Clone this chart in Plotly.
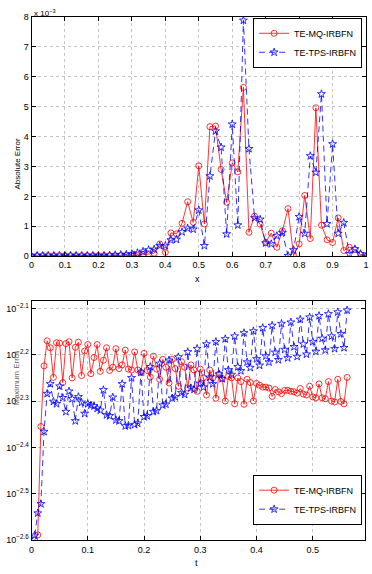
import numpy as np
import plotly.graph_objects as go

# ---------------- top panel data (absolute error, units of 1e-3) ----------------
x_nodes = np.linspace(0, 1, 61)
mq_abs_err_e3 = [0.0, 0.02, 0.02, 0.02, 0.02, 0.02, 0.02, 0.02, 0.02, 0.02,
                 0.02, 0.02, 0.02, 0.02, 0.02, 0.02, 0.02, 0.02, 0.02, 0.03,
                 0.05, 0.08, 0.10, 0.41, 0.13, 0.78, 0.75, 1.10, 1.82, 1.13,
                 3.02, 1.08, 4.33, 4.35, 2.90, 1.80, 3.12, 2.82, 5.64, 0.80,
                 1.34, 1.07, 0.46, 0.77, 0.30, 0.85, 1.59, 0.02, 0.41, 2.03,
                 0.59, 4.96, 1.04, 0.55, 0.46, 1.28, 0.19, 0.30, 0.22, 0.06, 0.0]
tps_abs_err_e3 = [0.0, 0.02, 0.02, 0.02, 0.02, 0.02, 0.02, 0.02, 0.02, 0.02,
                  0.02, 0.02, 0.02, 0.02, 0.03, 0.04, 0.05, 0.06, 0.08, 0.11,
                  0.16, 0.21, 0.23, 0.35, 0.35, 0.54, 0.56, 0.81, 0.93, 0.90,
                  1.54, 0.35, 2.68, 4.18, 3.64, 0.74, 4.41, 1.04, 7.88, 3.59,
                  1.28, 1.23, 0.44, 0.41, 0.68, 0.79, 0.02, 0.21, 1.32, 0.76,
                  3.35, 2.80, 5.42, 1.08, 3.75, 0.76, 1.12, 0.08, 0.24, 0.08, 0.0]
top_xticks = [0, 0.1, 0.2, 0.3, 0.4, 0.5, 0.6, 0.7, 0.8, 0.9, 1]
top_xticklabels = ["0", "0.1", "0.2", "0.3", "0.4", "0.5", "0.6", "0.7", "0.8", "0.9", "1"]
top_yticks = [0, 1, 2, 3, 4, 5, 6, 7, 8]

# ---------------- bottom panel data (log10 of error vs time) ----------------
t_steps = np.linspace(1 / 180, 101 / 180, 101)
mq_log10_err = [
    -2.600, -2.589, -2.355, -2.224, -2.170, -2.185, -2.249, -2.174, -2.175, -2.260,
    -2.176, -2.172, -2.250, -2.184, -2.173, -2.245, -2.192, -2.178, -2.241, -2.206,
    -2.178, -2.236, -2.212, -2.185, -2.234, -2.227, -2.187, -2.230, -2.222, -2.190,
    -2.231, -2.233, -2.194, -2.233, -2.238, -2.197, -2.234, -2.248, -2.203, -2.231,
    -2.253, -2.210, -2.227, -2.261, -2.210, -2.230, -2.268, -2.215, -2.227, -2.272,
    -2.222, -2.233, -2.279, -2.231, -2.250, -2.287, -2.233, -2.250, -2.294, -2.242,
    -2.251, -2.300, -2.247, -2.250, -2.306, -2.250, -2.258, -2.307, -2.253, -2.260,
    -2.300, -2.262, -2.266, -2.270, -2.270, -2.272, -2.290, -2.275, -2.280, -2.284,
    -2.277, -2.277, -2.279, -2.280, -2.283, -2.273, -2.285, -2.287, -2.268, -2.291,
    -2.293, -2.263, -2.293, -2.295, -2.258, -2.300, -2.302, -2.253, -2.301, -2.306,
    -2.249]
tps_log10_err = [
    -2.590, -2.542, -2.522, -2.366, -2.284, -2.263, -2.301, -2.306, -2.268, -2.293,
    -2.323, -2.279, -2.295, -2.343, -2.291, -2.303, -2.327, -2.306, -2.309, -2.311,
    -2.316, -2.320, -2.276, -2.330, -2.332, -2.292, -2.341, -2.343, -2.263, -2.354,
    -2.353, -2.250, -2.351, -2.348, -2.238, -2.334, -2.332, -2.226, -2.323, -2.321,
    -2.219, -2.309, -2.307, -2.212, -2.294, -2.291, -2.205, -2.282, -2.286, -2.194,
    -2.272, -2.275, -2.187, -2.262, -2.270, -2.177, -2.249, -2.263, -2.172, -2.242,
    -2.252, -2.166, -2.233, -2.243, -2.160, -2.226, -2.235, -2.153, -2.216, -2.228,
    -2.149, -2.209, -2.223, -2.142, -2.203, -2.216, -2.137, -2.195, -2.211, -2.133,
    -2.189, -2.207, -2.130, -2.183, -2.204, -2.124, -2.177, -2.199, -2.119, -2.172,
    -2.193, -2.116, -2.165, -2.190, -2.112, -2.160, -2.187, -2.108, -2.155, -2.185,
    -2.104]
bot_xticks = [0, 0.1, 0.2, 0.3, 0.4, 0.5]
bot_xticklabels = ["0", "0.1", "0.2", "0.3", "0.4", "0.5"]
bot_ytick_exps = [-2.6, -2.5, -2.4, -2.3, -2.2, -2.1]

series_names = ["TE-MQ-IRBFN", "TE-TPS-IRBFN"]

FONT = "Liberation Sans, Arial, Helvetica, sans-serif"
W, H = 372, 574

fig = go.Figure()

red_line = dict(color="#ff0000", width=0.8)
blue_line = dict(color="#0000ff", width=0.8, dash="6px,4px")
red_marker = dict(symbol="circle-open", size=6, color="#ff0000", line=dict(width=0.8))
blue_marker = dict(symbol="star-open", size=6, color="#0000ff", line=dict(width=0.8))

fig.add_trace(go.Scatter(x=x_nodes, y=mq_abs_err_e3, mode="lines+markers", name=series_names[0],
                         line=red_line, marker=red_marker, xaxis="x", yaxis="y", legend="legend"))
fig.add_trace(go.Scatter(x=x_nodes, y=tps_abs_err_e3, mode="lines+markers", name=series_names[1],
                         line=blue_line, marker=blue_marker, xaxis="x", yaxis="y", legend="legend"))

mq_err = [10 ** v for v in mq_log10_err]
tps_err = [10 ** v for v in tps_log10_err]
fig.add_trace(go.Scatter(x=t_steps, y=mq_err, mode="lines+markers", name=series_names[0],
                         line=red_line, marker=red_marker, xaxis="x2", yaxis="y2", legend="legend2"))
fig.add_trace(go.Scatter(x=t_steps, y=tps_err, mode="lines+markers", name=series_names[1],
                         line=blue_line, marker=blue_marker, xaxis="x2", yaxis="y2", legend="legend2"))

axis_common = dict(showline=True, linecolor="black", linewidth=1, mirror="ticks",
                   ticks="inside", ticklen=4, tickcolor="black", showgrid=True,
                   gridcolor="#c4c4c4", gridwidth=0.7, griddash="dot", zeroline=False,
                   tickfont=dict(family=FONT, size=9, color="black"))

xdom = [29 / W, 369 / W]
fig.update_layout(
    width=W, height=H,
    margin=dict(l=0, r=0, t=0, b=0),
    paper_bgcolor="white", plot_bgcolor="white",
    font=dict(family=FONT, size=9, color="black"),
    xaxis=dict(domain=xdom, range=[0, 1.00001], tickvals=top_xticks, ticktext=top_xticklabels,
               anchor="y", ticklabelstandoff=0, **axis_common),
    yaxis=dict(domain=[1 - 255.7 / H, 1 - 12 / H], range=[0, 8], tickvals=top_yticks,
               anchor="x", **axis_common),
    xaxis2=dict(domain=[29 / W, 368 / W], range=[0, 0.593], tickvals=bot_xticks,
                ticktext=bot_xticklabels, anchor="y2", ticklabelstandoff=1, **axis_common),
    yaxis2=dict(domain=[1 - 544.5 / H, 1 - 301 / H], type="log", range=[-2.6, -2.0835],
                tickvals=[10 ** e for e in bot_ytick_exps],
                ticktext=["10<sup>%s</sup>" % str(e).replace("-", "−") for e in bot_ytick_exps],
                anchor="x2", **axis_common),
    showlegend=True,
    legend=dict(x=365 / W, y=1 - 13 / H, xanchor="right", yanchor="top",
                bgcolor="white", bordercolor="black", borderwidth=1,
                font=dict(family=FONT, size=9), tracegroupgap=0, itemwidth=30),
    legend2=dict(x=365 / W, y=1 - 478 / H, xanchor="right", yanchor="top",
                 bgcolor="white", bordercolor="black", borderwidth=1,
                 font=dict(family=FONT, size=9), tracegroupgap=0, itemwidth=30),
    annotations=[
        dict(text="x 10<sup>−3</sup>", x=29 / W, y=1 - 1 / H, xref="paper", yref="paper",
             xanchor="left", yanchor="top", showarrow=False, font=dict(size=8)),
        dict(text="Absolute Error", x=8 / W, y=1 - 134 / H, xref="paper", yref="paper",
             textangle=-90, showarrow=False, font=dict(size=8)),
        dict(text="x", x=198 / W, y=1 - 272 / H, xref="paper", yref="paper",
             xanchor="center", yanchor="top", showarrow=False, font=dict(size=9)),
        dict(text="Maximum Error", x=7 / W, y=1 - 410 / H, xref="paper", yref="paper",
             textangle=-90, showarrow=False, font=dict(size=8, color="#666666")),
        dict(text="t", x=197 / W, y=1 - 561 / H, xref="paper", yref="paper",
             xanchor="center", yanchor="top", showarrow=False, font=dict(size=9)),
    ],
)

fig.write_html("out.html")
